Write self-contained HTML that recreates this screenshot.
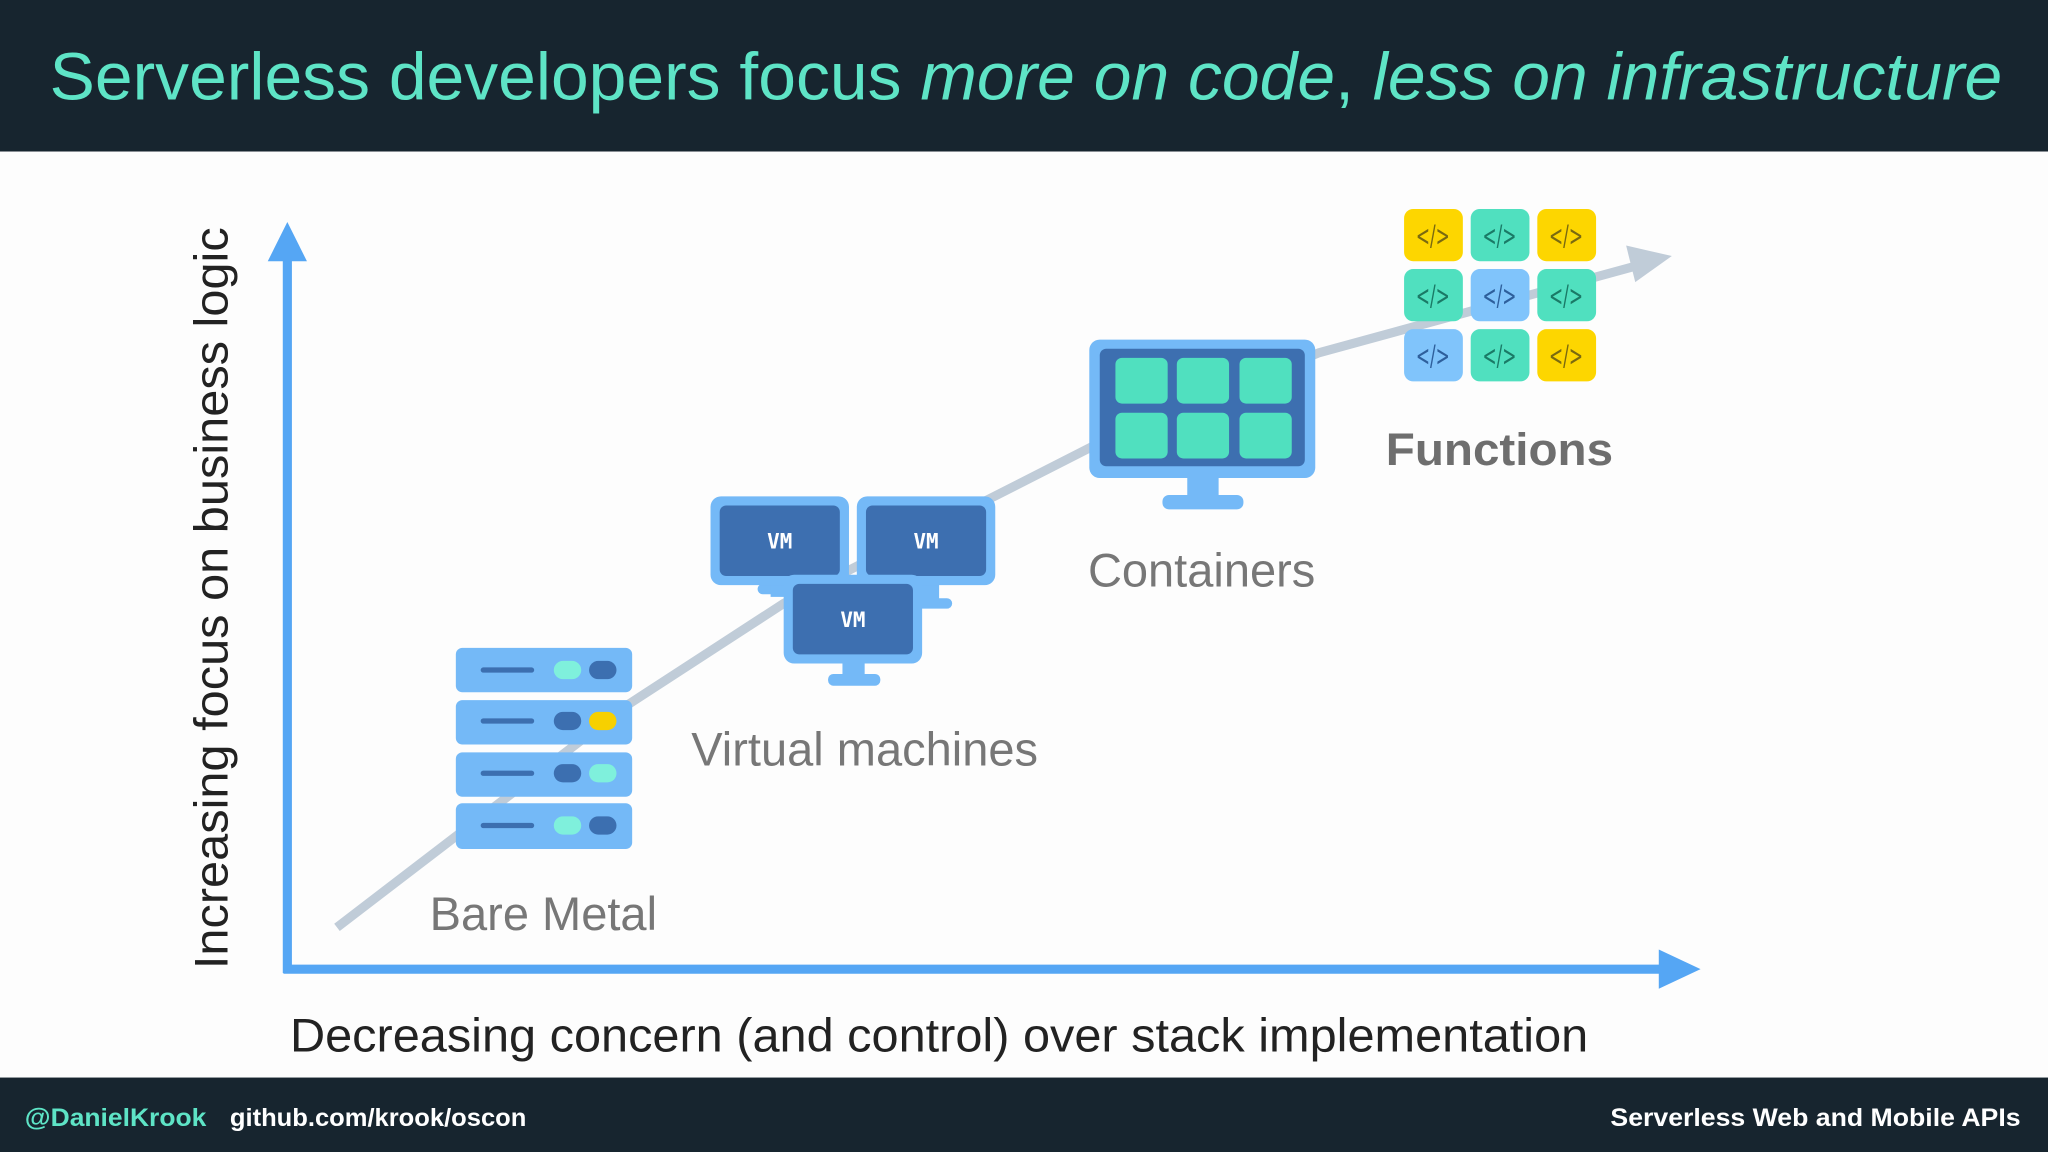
<!DOCTYPE html>
<html><head><meta charset="utf-8"><style>
html,body{margin:0;padding:0;background:#fdfdfd}
svg{display:block}
</style></head><body>
<svg width="2048" height="1152" viewBox="0 0 1568 882" xmlns="http://www.w3.org/2000/svg" font-family="Liberation Sans, sans-serif">
<rect width="1568" height="882" fill="#fdfdfd"/>
<rect width="1568" height="116" fill="#17252f"/>
<text x="38" y="76" font-size="51" fill="#5ee4c6" textLength="1495" lengthAdjust="spacingAndGlyphs">Serverless developers focus <tspan font-style="italic">more on code</tspan>, <tspan font-style="italic">less on infrastructure</tspan></text>
<rect y="825" width="1568" height="57" fill="#17252f"/>
<text x="19" y="862" font-size="19" font-weight="bold" fill="#5ee4c6" textLength="139" lengthAdjust="spacingAndGlyphs">@DanielKrook</text>
<text x="176" y="862" font-size="19" font-weight="bold" fill="#fff" textLength="227" lengthAdjust="spacingAndGlyphs">github.com/krook/oscon</text>
<text x="1233" y="862" font-size="19" font-weight="bold" fill="#fff" textLength="314" lengthAdjust="spacingAndGlyphs">Serverless Web and Mobile APIs</text>

<!-- trend line -->
<polyline points="258,710 480,540 600,462 840,340 1010,270 1255,203" fill="none" stroke="#c0ccd8" stroke-width="7"/>
<polygon points="1280,196 1245,188 1252,216" fill="#c0ccd8"/>

<!-- axes -->
<line x1="220" y1="745" x2="220" y2="195" stroke="#55a6f4" stroke-width="7"/>
<polygon points="220,170 205,200 235,200" fill="#55a6f4"/>
<line x1="217" y1="742" x2="1275" y2="742" stroke="#55a6f4" stroke-width="7"/>
<polygon points="1302,742 1270,727 1270,757" fill="#55a6f4"/>
<text transform="translate(174,742) rotate(-90)" font-size="36" fill="#222" textLength="568" lengthAdjust="spacingAndGlyphs">Increasing focus on business logic</text>
<text x="222" y="805" font-size="36" fill="#222" textLength="994" lengthAdjust="spacingAndGlyphs">Decreasing concern (and control) over stack implementation</text>

<!-- bare metal -->
<g>
<rect x="349" y="496" width="135" height="34" rx="5" fill="#74b9f7"/>
<rect x="349" y="536" width="135" height="34" rx="5" fill="#74b9f7"/>
<rect x="349" y="576" width="135" height="34" rx="5" fill="#74b9f7"/>
<rect x="349" y="615" width="135" height="35" rx="5" fill="#74b9f7"/>
<g stroke="#3c6fb0" stroke-width="4" stroke-linecap="round">
<line x1="370" y1="513" x2="407" y2="513"/><line x1="370" y1="552" x2="407" y2="552"/>
<line x1="370" y1="592" x2="407" y2="592"/><line x1="370" y1="632" x2="407" y2="632"/>
</g>
<rect x="424" y="506" width="21" height="14" rx="7" fill="#7ff0dc"/><rect x="451" y="506" width="21" height="14" rx="7" fill="#3c6fb0"/>
<rect x="424" y="545" width="21" height="14" rx="7" fill="#3c6fb0"/><rect x="451" y="545" width="21" height="14" rx="7" fill="#f7d000"/>
<rect x="424" y="585" width="21" height="14" rx="7" fill="#3c6fb0"/><rect x="451" y="585" width="21" height="14" rx="7" fill="#7ff0dc"/>
<rect x="424" y="625" width="21" height="14" rx="7" fill="#7ff0dc"/><rect x="451" y="625" width="21" height="14" rx="7" fill="#3c6fb0"/>
</g>
<text x="416" y="712" font-size="36" fill="#777" text-anchor="middle">Bare Metal</text>

<!-- VMs -->
<g font-family="DejaVu Sans Mono, monospace" font-weight="bold" font-size="16" fill="#fff" text-anchor="middle">
<rect x="580" y="447" width="36" height="8" rx="4" fill="#74b9f7"/>
<rect x="590" y="445" width="16" height="12" fill="#74b9f7"/>
<rect x="544" y="380" width="106" height="68" rx="8" fill="#74b9f7"/>
<rect x="551" y="387" width="92" height="54" rx="5" fill="#3d6fb0"/>
<text x="597" y="420">VM</text>
<rect x="693" y="458" width="36" height="8" rx="4" fill="#74b9f7"/>
<rect x="703" y="445" width="16" height="16" fill="#74b9f7"/>
<rect x="656" y="380" width="106" height="68" rx="8" fill="#74b9f7"/>
<rect x="663" y="387" width="92" height="54" rx="5" fill="#3d6fb0"/>
<text x="709" y="420">VM</text>
<rect x="645" y="505" width="17" height="14" fill="#74b9f7"/>
<rect x="634" y="516" width="40" height="9" rx="4" fill="#74b9f7"/>
<rect x="600" y="440" width="106" height="68" rx="8" fill="#74b9f7"/>
<rect x="607" y="447" width="92" height="54" rx="5" fill="#3d6fb0"/>
<text x="653" y="480">VM</text>
</g>
<text x="662" y="586" font-size="36" fill="#777" text-anchor="middle">Virtual machines</text>

<!-- containers -->
<rect x="909" y="362" width="24" height="22" fill="#74b9f7"/>
<rect x="890" y="379" width="62" height="11" rx="5" fill="#74b9f7"/>
<rect x="834" y="260" width="173" height="106" rx="8" fill="#74b9f7"/>
<rect x="842" y="267" width="157" height="90" rx="5" fill="#3d6fb0"/>
<g fill="#50e0bf">
<rect x="854" y="274" width="40" height="35" rx="5"/><rect x="901" y="274" width="40" height="35" rx="5"/><rect x="949" y="274" width="40" height="35" rx="5"/>
<rect x="854" y="316" width="40" height="35" rx="5"/><rect x="901" y="316" width="40" height="35" rx="5"/><rect x="949" y="316" width="40" height="35" rx="5"/>
</g>
<text x="920" y="449" font-size="36" fill="#777" text-anchor="middle">Containers</text>

<!-- functions -->
<g font-family="DejaVu Sans, sans-serif" font-size="22" text-anchor="middle">
<rect x="1075" y="160" width="45" height="40" rx="7" fill="#fdd600"/><text x="1097" y="188" fill="#7a6a10" textLength="26" lengthAdjust="spacingAndGlyphs">&lt;/&gt;</text>
<rect x="1126" y="160" width="45" height="40" rx="7" fill="#50e0bf"/><text x="1148" y="188" fill="#1a7a66" textLength="26" lengthAdjust="spacingAndGlyphs">&lt;/&gt;</text>
<rect x="1177" y="160" width="45" height="40" rx="7" fill="#fdd600"/><text x="1199" y="188" fill="#7a6a10" textLength="26" lengthAdjust="spacingAndGlyphs">&lt;/&gt;</text>
<rect x="1075" y="206" width="45" height="40" rx="7" fill="#50e0bf"/><text x="1097" y="234" fill="#1a7a66" textLength="26" lengthAdjust="spacingAndGlyphs">&lt;/&gt;</text>
<rect x="1126" y="206" width="45" height="40" rx="7" fill="#80c4fb"/><text x="1148" y="234" fill="#2e5f9c" textLength="26" lengthAdjust="spacingAndGlyphs">&lt;/&gt;</text>
<rect x="1177" y="206" width="45" height="40" rx="7" fill="#50e0bf"/><text x="1199" y="234" fill="#1a7a66" textLength="26" lengthAdjust="spacingAndGlyphs">&lt;/&gt;</text>
<rect x="1075" y="252" width="45" height="40" rx="7" fill="#80c4fb"/><text x="1097" y="280" fill="#2e5f9c" textLength="26" lengthAdjust="spacingAndGlyphs">&lt;/&gt;</text>
<rect x="1126" y="252" width="45" height="40" rx="7" fill="#50e0bf"/><text x="1148" y="280" fill="#1a7a66" textLength="26" lengthAdjust="spacingAndGlyphs">&lt;/&gt;</text>
<rect x="1177" y="252" width="45" height="40" rx="7" fill="#fdd600"/><text x="1199" y="280" fill="#7a6a10" textLength="26" lengthAdjust="spacingAndGlyphs">&lt;/&gt;</text>
</g>
<text x="1148" y="356" font-size="35" font-weight="bold" fill="#6e6e6e" text-anchor="middle" textLength="174" lengthAdjust="spacingAndGlyphs">Functions</text>
</svg>
</body></html>
